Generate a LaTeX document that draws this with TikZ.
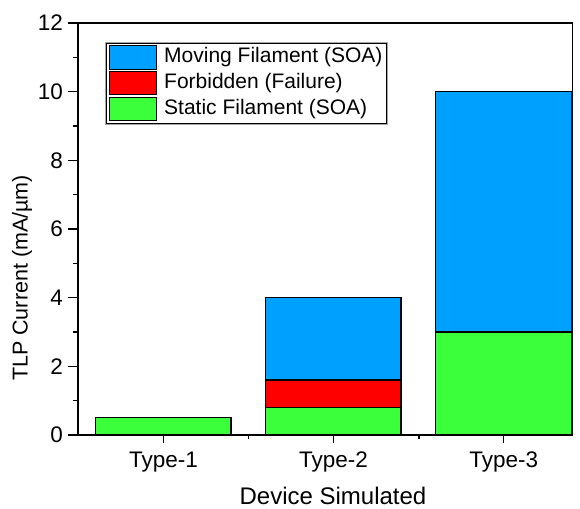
\documentclass[tikz,border=0pt]{standalone}
\usepackage{fontspec}
\setmainfont{Liberation Sans}
\definecolor{movblue}{RGB}{0,160,255}
\definecolor{forbred}{RGB}{255,0,0}
\definecolor{statgreen}{RGB}{60,255,60}
\begin{document}
\begin{tikzpicture}[x=1pt,y=1pt,
  bar/.style={draw=black,line width=1.2pt},
  axisline/.style={line width=1.8pt,line cap=rect},
  tickl/.style={line width=1.5pt},
  ticklab/.style={font=\fontsize{22.5}{22.5}\selectfont,inner sep=0pt},
  xtit/.style={font=\fontsize{24}{24}\selectfont,inner sep=0pt},
  ytit/.style={font=\fontsize{21.5}{21.5}\selectfont,inner sep=0pt},
  leglab/.style={font=\fontsize{21}{21}\selectfont,anchor=west,inner sep=0pt},
  sw/.style={draw=black,line width=1pt}]
\useasboundingbox (0,0) rectangle (580,508);
\begin{scope}[shift={(78,73)},x=1pt,y=34.333pt]
  % bars
  \fill[statgreen] (17.7,0) rectangle (153,0.5);
  \draw[bar] (17.7,0) rectangle (153,0.5);
  \fill[statgreen] (187.7,0) rectangle (323,0.8);
  \fill[forbred] (187.7,0.8) rectangle (323,1.6);
  \fill[movblue] (187.7,1.6) rectangle (323,4);
  \draw[bar] (187.7,0) rectangle (323,4);
  \draw[bar] (187.7,0.8) -- (323,0.8) (187.7,1.6) -- (323,1.6);
  \fill[statgreen] (357.7,0) rectangle (493.7,3);
  \fill[movblue] (357.7,3) rectangle (493.7,10);
  \draw[bar] (357.7,0) rectangle (493.7,10);
  \draw[bar] (357.7,3) -- (493.7,3);
  % axes frame
  \draw[axisline] (0,0) rectangle (494.5,12);
  % y ticks
  \foreach \v in {0,2,...,12} {
    \draw[tickl] (0,\v) -- (-10,\v);
    \node[ticklab,anchor=east] (yl\v) at (-15,\v) {\v};
  }
  \foreach \v in {1,3,...,11} \draw[tickl] (0,\v) -- (-5,\v);
  % x ticks
  \foreach \c/\n in {85.5/1,255.5/2,425.7/3} {
    \draw[tickl] (\c,0) -- (\c,-0.24);
    \node[ticklab,anchor=base] (xl\n) at (\c,-0.94) {Type-\n};
  }
  \foreach \c in {170.5,341} \draw[tickl] (\c,0) -- (\c,-0.12);
\end{scope}
% axis titles
\node[ytit,rotate=90] (ytitle) at (22,230) {TLP Current (mA/µm)};
\node[xtit,anchor=base] (xtitle) at (333,4) {Device Simulated};
% legend
\draw[gray!70,line width=1.6pt] (106,465.3) rectangle (387,384);
\draw[black,line width=0.6pt] (106.5,464.8) rectangle (386.5,384.5);
\draw[sw,fill=movblue] (109,462.3) rectangle (156,438.7);
\draw[sw,fill=forbred] (109,436) rectangle (156,413);
\draw[sw,fill=statgreen] (109,410.3) rectangle (156,387.3);
\node[leglab] (l1) at (164,450.5) {Moving Filament (SOA)};
\node[leglab] (l2) at (164,424.5) {Forbidden (Failure)};
\node[leglab] (l3) at (164,398.8) {Static Filament (SOA)};
\end{tikzpicture}
\end{document}
